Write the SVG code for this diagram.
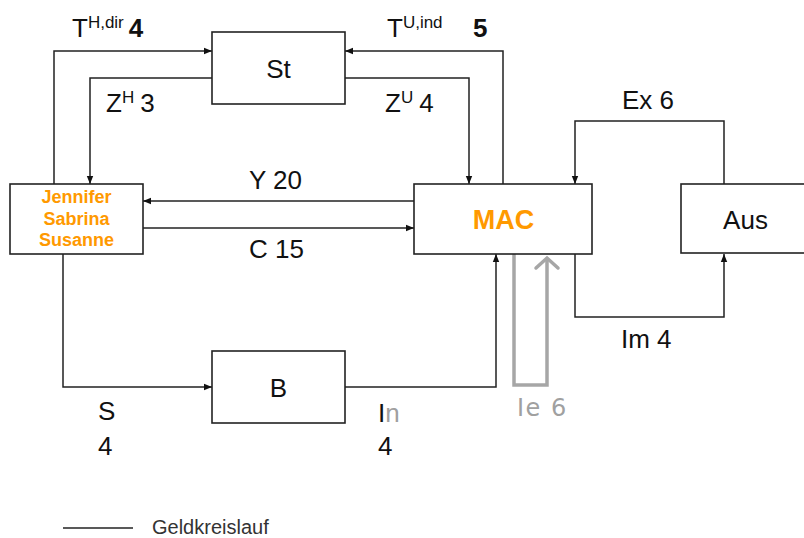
<svg xmlns="http://www.w3.org/2000/svg" width="804" height="538" viewBox="0 0 804 538">
<defs>
<marker id="ah" viewBox="0 0 10 10" refX="10" refY="5" markerWidth="8" markerHeight="8" markerUnits="userSpaceOnUse" orient="auto">
<path d="M0,1 L10,5 L0,9 z" fill="#111"/>
</marker>
<style>
.box{fill:#fff;stroke:#222;stroke-width:1.6}
.ln{fill:none;stroke:#222;stroke-width:1.5;marker-end:url(#ah)}
.t{font-family:"Liberation Sans",Arial,sans-serif;font-size:26px;fill:#111}
.sup{font-size:17px}
.b{font-weight:bold}
.or{font-family:"Liberation Sans",Arial,sans-serif;font-weight:bold;fill:#FF9900;text-anchor:middle}
.gray{fill:#a0a0a0}
</style>
</defs>
<rect width="804" height="538" fill="#fff"/>
<g id="connectors">
<path class="ln" d="M54,184 V51 H212"/>
<path class="ln" d="M212,78 H90 V184"/>
<path class="ln" d="M503,184 V51 H345"/>
<path class="ln" d="M345,78 H469 V184"/>
<path class="ln" d="M414,201 H143"/>
<path class="ln" d="M143,228 H414"/>
<path class="ln" d="M724,184 V121 H575 V184"/>
<path class="ln" d="M575,254 V317 H724 V254"/>
<path class="ln" d="M63,254 V387 H212"/>
<path class="ln" d="M345,387 H496 V254"/>
<path d="M514,254 V385 H547 V258" fill="none" stroke="#a6a6a6" stroke-width="3.5"/>
<path d="M536,268 L547,258 L558,268" fill="none" stroke="#a6a6a6" stroke-width="3.5" stroke-linecap="round"/>
<line x1="63" y1="528" x2="133" y2="528" stroke="#222" stroke-width="1.5"/>
</g>
<g id="St">
<rect class="box" x="212" y="32" width="133" height="72"/>
<text class="t" x="278.5" y="78" text-anchor="middle">St</text>
</g>
<g id="Jennifer">
<rect class="box" x="10" y="184" width="133" height="70"/>
<text class="or" x="76.5" y="203" font-size="18">Jennifer</text>
<text class="or" x="76.5" y="225" font-size="18">Sabrina</text>
<text class="or" x="76.5" y="246" font-size="18">Susanne</text>
</g>
<g id="MAC">
<rect class="box" x="414" y="184" width="178" height="70"/>
<text class="or" x="503.5" y="229" font-size="27">MAC</text>
</g>
<g id="Aus">
<rect class="box" x="681" y="184" width="140" height="69"/>
<text class="t" x="745.5" y="229" text-anchor="middle">Aus</text>
</g>
<g id="B">
<rect class="box" x="212" y="351" width="133" height="72"/>
<text class="t" x="278.5" y="397" text-anchor="middle">B</text>
</g>
<g id="labels">
<text class="t" x="72" y="37">T<tspan class="sup" dy="-9">H,dir</tspan><tspan class="b" dy="9" dx="5">4</tspan></text>
<text class="t" x="387" y="37">T<tspan class="sup" dy="-9">U,ind</tspan></text>
<text class="t b" x="473" y="37">5</text>
<text class="t" x="106" y="112">Z<tspan class="sup" dy="-9">H</tspan><tspan dy="9" dx="6">3</tspan></text>
<text class="t" x="385" y="112">Z<tspan class="sup" dy="-9">U</tspan><tspan dy="9" dx="6">4</tspan></text>
<text class="t" x="249" y="189">Y 20</text>
<text class="t" x="249" y="258">C 15</text>
<text class="t" x="622" y="109">Ex 6</text>
<text class="t" x="621" y="348">Im 4</text>
<text class="t" x="98" y="420">S</text>
<text class="t" x="98" y="455">4</text>
<text class="t" x="378" y="422">I<tspan class="gray">n</tspan></text>
<text class="t" x="378" y="455">4</text>
<text class="t gray" x="517" y="416" style="font-family:'DejaVu Sans',sans-serif;font-size:24px;letter-spacing:1.5px">Ie 6</text>
<text x="152" y="534" style="font-family:'Liberation Sans',Arial,sans-serif;font-size:20px;fill:#333">Geldkreislauf</text>
</g>
</svg>
